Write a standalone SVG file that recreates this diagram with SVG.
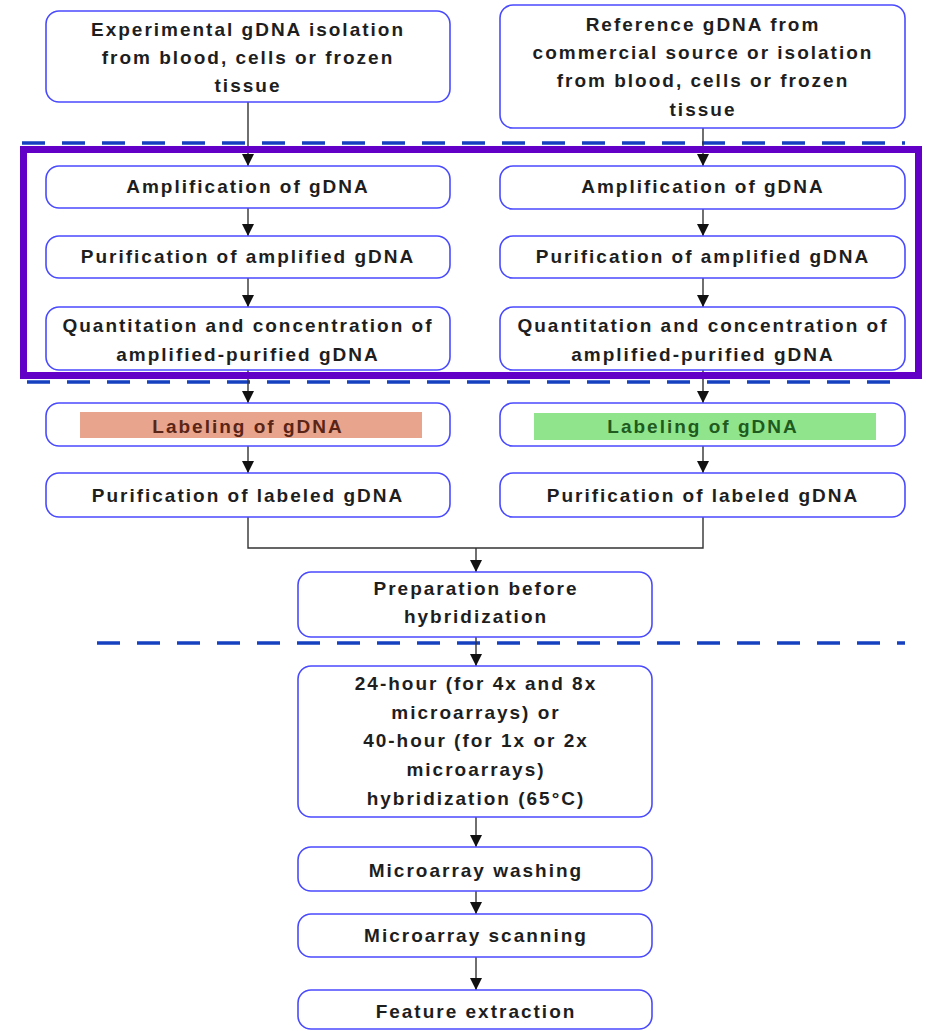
<svg xmlns="http://www.w3.org/2000/svg" width="926" height="1031" viewBox="0 0 926 1031">
<defs>
<marker id="ah" markerUnits="userSpaceOnUse" markerWidth="12" markerHeight="12" viewBox="0 0 12 12" refX="12" refY="6" orient="auto">
<path d="M0,0 L12,6 L0,12 Z" fill="#111"/>
</marker>
<style>
.box{fill:#fff;stroke:#4a4aff;stroke-width:1.6}
.t{font-family:"Liberation Sans",Arial,sans-serif;font-weight:bold;font-size:19px;letter-spacing:2px;fill:#1e1e1e;text-anchor:middle}
.c{fill:none;stroke:#333;stroke-width:1.4}
.dash{stroke:#1540c0;stroke-width:3.5;stroke-dasharray:23 17;fill:none}
</style>
</defs>
<rect width="926" height="1031" fill="#fff"/>

<g id="separators">
<line class="dash" x1="22" y1="143" x2="905" y2="143"/>
<line class="dash" x1="27" y1="382" x2="905" y2="382"/>
<line class="dash" x1="97" y1="643" x2="905" y2="643"/>
</g>

<g id="connectors">
<line class="c" x1="248" y1="102" x2="248" y2="166" marker-end="url(#ah)"/>
<line class="c" x1="703" y1="128" x2="703" y2="166" marker-end="url(#ah)"/>
<line class="c" x1="248" y1="208" x2="248" y2="236" marker-end="url(#ah)"/>
<line class="c" x1="703" y1="209" x2="703" y2="236" marker-end="url(#ah)"/>
<line class="c" x1="248" y1="278" x2="248" y2="307" marker-end="url(#ah)"/>
<line class="c" x1="703" y1="278" x2="703" y2="307" marker-end="url(#ah)"/>
<line class="c" x1="248" y1="370" x2="248" y2="403" marker-end="url(#ah)"/>
<line class="c" x1="703" y1="370" x2="703" y2="403" marker-end="url(#ah)"/>
<line class="c" x1="248" y1="446" x2="248" y2="473" marker-end="url(#ah)"/>
<line class="c" x1="703" y1="446" x2="703" y2="473" marker-end="url(#ah)"/>
<polyline class="c" points="248,517 248,548 703,548 703,517"/>
<line class="c" x1="476" y1="548" x2="476" y2="572" marker-end="url(#ah)"/>
<line class="c" x1="476" y1="637" x2="476" y2="666" marker-end="url(#ah)"/>
<line class="c" x1="476" y1="817" x2="476" y2="847" marker-end="url(#ah)"/>
<line class="c" x1="476" y1="891" x2="476" y2="914" marker-end="url(#ah)"/>
<line class="c" x1="476" y1="957" x2="476" y2="990" marker-end="url(#ah)"/>
</g>

<g id="amplification-frame">
<rect x="23.5" y="149.5" width="895" height="226" fill="none" stroke="#6200c8" stroke-width="7"/>
</g>

<g id="exp-isolation">
<rect class="box" x="46" y="11" width="404" height="91" rx="13"/>
<text class="t" x="248" y="36">Experimental gDNA isolation</text>
<text class="t" x="248" y="64">from blood, cells or frozen</text>
<text class="t" x="248" y="92">tissue</text>
</g>
<g id="ref-source">
<rect class="box" x="500" y="5" width="405" height="123" rx="13"/>
<text class="t" x="703" y="31">Reference gDNA from</text>
<text class="t" x="703" y="59">commercial source or isolation</text>
<text class="t" x="703" y="87">from blood, cells or frozen</text>
<text class="t" x="703" y="116">tissue</text>
</g>

<g id="amp-left">
<rect class="box" x="46" y="166" width="404" height="42" rx="13"/>
<text class="t" x="248" y="193">Amplification of gDNA</text>
</g>
<g id="amp-right">
<rect class="box" x="500" y="166" width="405" height="43" rx="13"/>
<text class="t" x="703" y="193">Amplification of gDNA</text>
</g>
<g id="purif-amp-left">
<rect class="box" x="46" y="236" width="404" height="42" rx="13"/>
<text class="t" x="248" y="263">Purification of amplified gDNA</text>
</g>
<g id="purif-amp-right">
<rect class="box" x="500" y="236" width="405" height="42" rx="13"/>
<text class="t" x="703" y="263">Purification of amplified gDNA</text>
</g>
<g id="quant-left">
<rect class="box" x="46" y="307" width="404" height="63" rx="13"/>
<text class="t" x="248" y="332">Quantitation and concentration of</text>
<text class="t" x="248" y="361">amplified-purified gDNA</text>
</g>
<g id="quant-right">
<rect class="box" x="500" y="307" width="405" height="63" rx="13"/>
<text class="t" x="703" y="332">Quantitation and concentration of</text>
<text class="t" x="703" y="361">amplified-purified gDNA</text>
</g>

<g id="label-left">
<rect class="box" x="46" y="403" width="404" height="43" rx="13"/>
<rect x="80" y="412" width="342" height="26" fill="#e8a48c"/>
<text class="t" x="248" y="433" style="fill:#5a2416">Labeling of gDNA</text>
</g>
<g id="label-right">
<rect class="box" x="500" y="403" width="405" height="43" rx="13"/>
<rect x="534" y="413" width="342" height="27" fill="#90e58c"/>
<text class="t" x="703" y="433" style="fill:#1f5a1f">Labeling of gDNA</text>
</g>
<g id="purif-lab-left">
<rect class="box" x="46" y="473" width="404" height="44" rx="13"/>
<text class="t" x="248" y="502">Purification of labeled gDNA</text>
</g>
<g id="purif-lab-right">
<rect class="box" x="500" y="473" width="405" height="44" rx="13"/>
<text class="t" x="703" y="502">Purification of labeled gDNA</text>
</g>

<g id="prep">
<rect class="box" x="298" y="572" width="354" height="65" rx="13"/>
<text class="t" x="476" y="595">Preparation before</text>
<text class="t" x="476" y="623">hybridization</text>
</g>
<g id="hyb">
<rect class="box" x="298" y="666" width="354" height="151" rx="13"/>
<text class="t" x="476" y="690">24-hour (for 4x and 8x</text>
<text class="t" x="476" y="719">microarrays) or</text>
<text class="t" x="476" y="747">40-hour (for 1x or 2x</text>
<text class="t" x="476" y="776">microarrays)</text>
<text class="t" x="476" y="805">hybridization (65°C)</text>
</g>
<g id="wash">
<rect class="box" x="298" y="847" width="354" height="44" rx="13"/>
<text class="t" x="476" y="877">Microarray washing</text>
</g>
<g id="scan">
<rect class="box" x="298" y="914" width="354" height="43" rx="13"/>
<text class="t" x="476" y="942">Microarray scanning</text>
</g>
<g id="feature">
<rect class="box" x="298" y="990" width="354" height="39" rx="13"/>
<text class="t" x="476" y="1018">Feature extraction</text>
</g>
</svg>
